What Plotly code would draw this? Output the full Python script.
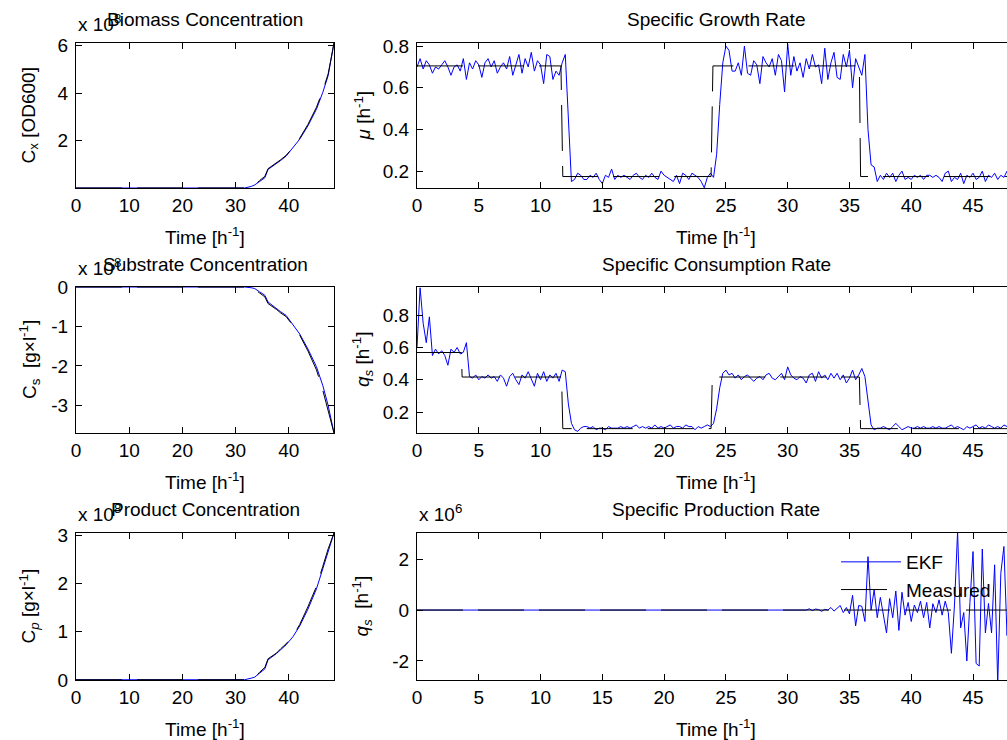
import numpy as np
import plotly.graph_objects as go

# ---------------- data ----------------
# sampling grid of the EKF estimates (h)
t = np.round(np.arange(195) * 0.25, 2)

mu_ekf = [
    0.70, 0.74, 0.69, 0.73, 0.71, 0.67, 0.70, 0.69, 0.71, 0.73,
    0.70, 0.66, 0.70, 0.71, 0.68, 0.74, 0.64, 0.72, 0.69, 0.73,
    0.71, 0.65, 0.72, 0.74, 0.70, 0.73, 0.67, 0.70, 0.72, 0.69,
    0.75, 0.66, 0.71, 0.76, 0.67, 0.74, 0.70, 0.77, 0.68, 0.73,
    0.71, 0.62, 0.76, 0.75, 0.64, 0.68, 0.66, 0.72,
    0.76, 0.45, 0.15, 0.16, 0.19, 0.18, 0.16, 0.16, 0.18, 0.17,
    0.19, 0.16, 0.14, 0.18, 0.17, 0.21, 0.16, 0.18, 0.17, 0.18,
    0.17, 0.16, 0.18, 0.19, 0.17, 0.16, 0.18, 0.17, 0.19, 0.17,
    0.16, 0.20, 0.18, 0.17, 0.16, 0.15, 0.18, 0.14, 0.19, 0.18,
    0.16, 0.19, 0.18, 0.17, 0.15, 0.12, 0.17, 0.19,
    0.17, 0.28, 0.52, 0.72, 0.80, 0.78, 0.68, 0.68, 0.72, 0.66,
    0.80, 0.67, 0.66, 0.73, 0.71, 0.62, 0.75, 0.72, 0.70, 0.74,
    0.66, 0.76, 0.73, 0.58, 0.81, 0.66, 0.75, 0.68, 0.72, 0.65,
    0.74, 0.69, 0.76, 0.70, 0.71, 0.62, 0.79, 0.64, 0.72, 0.77,
    0.65, 0.64, 0.76, 0.70, 0.78, 0.60, 0.74, 0.70,
    0.66, 0.76, 0.40, 0.23, 0.22, 0.15, 0.18, 0.16, 0.19, 0.17,
    0.19, 0.15, 0.18, 0.20, 0.16, 0.17, 0.16, 0.18, 0.17, 0.18,
    0.16, 0.18, 0.18, 0.17, 0.18, 0.17, 0.15, 0.19, 0.20, 0.15,
    0.17, 0.16, 0.19, 0.14, 0.18, 0.17, 0.19, 0.16, 0.17, 0.20,
    0.15, 0.18, 0.17, 0.19, 0.16, 0.18, 0.17, 0.20, 0.18, 0.16,
    0.17,
]
mu_meas_t = [0, 11.65, 11.8, 23.8, 23.95, 35.8, 35.9, 48.5]
mu_meas = [0.705, 0.705, 0.174, 0.174, 0.705, 0.705, 0.174, 0.174]

qs_ekf = [
    0.60, 0.97, 0.75, 0.63, 0.79, 0.55, 0.59, 0.56, 0.58, 0.55,
    0.49, 0.59, 0.57, 0.60, 0.56,
    0.57, 0.63, 0.42, 0.41, 0.43, 0.40, 0.42, 0.41, 0.43, 0.41,
    0.42, 0.39, 0.43, 0.41, 0.36, 0.42, 0.44, 0.40, 0.37, 0.43,
    0.41, 0.45, 0.40, 0.36, 0.44, 0.40, 0.45, 0.39, 0.43, 0.41,
    0.44, 0.39, 0.46,
    0.45, 0.25, 0.13, 0.09, 0.08, 0.10, 0.11, 0.11, 0.10, 0.11,
    0.09, 0.10, 0.10, 0.09, 0.11, 0.10, 0.10, 0.10, 0.11, 0.10,
    0.11, 0.10, 0.11, 0.12, 0.10, 0.11, 0.10, 0.11, 0.10, 0.12,
    0.10, 0.11, 0.10, 0.11, 0.12, 0.10, 0.11, 0.11, 0.10, 0.12,
    0.11, 0.11, 0.09, 0.11, 0.10, 0.11, 0.12, 0.11,
    0.13, 0.22, 0.35, 0.44, 0.46, 0.43, 0.44, 0.41, 0.43, 0.40,
    0.42, 0.43, 0.41, 0.39, 0.41, 0.42, 0.40, 0.43, 0.44, 0.41,
    0.40, 0.42, 0.44, 0.40, 0.48, 0.43, 0.41, 0.40, 0.42, 0.41,
    0.38, 0.43, 0.44, 0.39, 0.45, 0.41, 0.43, 0.40, 0.44, 0.41,
    0.44, 0.40, 0.43, 0.38, 0.41, 0.46, 0.40, 0.43,
    0.47, 0.42, 0.25, 0.12, 0.09, 0.10, 0.10, 0.11, 0.10, 0.09,
    0.11, 0.13, 0.11, 0.09, 0.10, 0.11, 0.10, 0.10, 0.11, 0.10,
    0.11, 0.10, 0.10, 0.11, 0.10, 0.11, 0.10, 0.10, 0.11, 0.12,
    0.10, 0.11, 0.10, 0.09, 0.11, 0.10, 0.11, 0.12, 0.10, 0.11,
    0.10, 0.12, 0.11, 0.10, 0.11, 0.10, 0.12, 0.11, 0.11, 0.10,
    0.11,
]
qs_meas_t = [0, 3.6, 3.65, 11.7, 11.8, 23.8, 23.9, 35.8, 35.9, 48.5]
qs_meas = [0.569, 0.569, 0.417, 0.417, 0.097, 0.097, 0.417, 0.417, 0.097, 0.097]

# specific production rate, x 10^6 (flat zero up to 31.25 h)
qp_ekf = [0.0] * 126 + [
    0.00, 0.05, -0.02, 0.04, 0.02, -0.05, 0.03, 0.00, 0.10, -0.04,
    0.06, 0.18, -0.10, 0.10, -0.15, 0.58, -0.62, 0.18, 0.15, -0.45,
    2.10, 0.00, 0.80, -0.30, 0.50, -0.25, -0.90, 0.45, -0.30, 0.75,
    -0.80, 0.70, -0.20, 0.30, -0.45, 0.20, -0.10, 0.35, -0.30, 0.30,
    -0.70, 0.25, -0.10, 0.40, -0.20, 0.35, -0.10, -1.70, 0.20, 3.10,
    -0.70, -0.10, -2.00, 0.30, 2.30, -2.10, -2.20, 2.40, -0.90, 0.26,
    -0.90, 1.78, -2.90, 1.45, 2.50, -1.00, 1.20, -0.80, 0.50,
]
qp_meas_t = [0, 48.5]
qp_meas = [0.0, 0.0]

# concentrations, x 10^8
conc_t = [0, 30, 31.7, 33, 33.6, 34.5, 35.5, 36.1, 37, 37.7, 38.5, 39.5,
          40.8, 42.05, 43.6, 45.2, 46.4, 47.4, 48.5]
cx_ekf = [0.01, 0.01, 0.01, 0.08, 0.14, 0.28, 0.44, 0.79, 0.92, 1.04, 1.17,
          1.35, 1.70, 2.06, 2.62, 3.32, 4.03, 4.73, 6.10]
cx_meas = [0.01, 0.01, 0.01, 0.06, 0.12, 0.32, 0.50, 0.82, 0.95, 1.06, 1.20,
           1.38, 1.72, 2.10, 2.68, 3.40, 4.10, 4.80, 6.10]
cs_ekf = [0, 0, 0, -0.02, -0.04, -0.12, -0.21, -0.38, -0.48, -0.55, -0.63,
          -0.72, -0.96, -1.19, -1.57, -2.02, -2.50, -3.00, -3.70]
cs_meas = [0, 0, 0, -0.03, -0.06, -0.15, -0.25, -0.42, -0.50, -0.57, -0.66,
           -0.75, -0.98, -1.22, -1.62, -2.10, -2.62, -3.12, -3.70]
cp_ekf = [0.005, 0.005, 0.005, 0.04, 0.06, 0.14, 0.23, 0.42, 0.49, 0.55, 0.63,
          0.73, 0.90, 1.12, 1.47, 1.89, 2.31, 2.67, 3.05]
cp_meas = [0.005, 0.005, 0.005, 0.03, 0.05, 0.16, 0.26, 0.44, 0.50, 0.56, 0.65,
           0.75, 0.92, 1.15, 1.52, 1.94, 2.36, 2.72, 3.05]

titles = ["Biomass Concentration", "Specific Growth Rate",
          "Substrate Concentration", "Specific Consumption Rate",
          "Product Concentration", "Specific Production Rate"]
ylabels = ["C<sub>x</sub> [OD600]", "<i>μ</i> [h<sup>-1</sup>]",
           "C<sub>s</sub>  [g×l<sup>-1</sup>]", "<i>q<sub>s</sub></i> [h<sup>-1</sup>]",
           "C<sub><i>p</i></sub> [g×l<sup>-1</sup>]", "<i>q<sub>s</sub></i>  [h<sup>-1</sup>]"]
xlabel = "Time [h<sup>-1</sup>]"

yticks = [[2, 4, 6], [0.2, 0.4, 0.6, 0.8], [-3, -2, -1, 0], [0.2, 0.4, 0.6, 0.8],
          [0, 1, 2, 3], [-2, 0, 2]]
yticklabels = [["2", "4", "6"], ["0.2", "0.4", "0.6", "0.8"],
               ["-3", "-2", "-1", "0"], ["0.2", "0.4", "0.6", "0.8"],
               ["0", "1", "2", "3"], ["-2", "0", "2"]]
xticks_left = [0, 10, 20, 30, 40]
xticks_right = [0, 5, 10, 15, 20, 25, 30, 35, 40, 45]

# ---------------- figure ----------------
W, H = 1007, 740
FONT = "Liberation Sans, Arial, Helvetica, sans-serif"
FS = 19
BLUE = "#0000FF"
DASH = "46px,15px"

def px(x):
    return x / W

def py(y):
    return 1 - y / H

fig = go.Figure()

panels = [
    (conc_t, cx_ekf, conc_t, cx_meas),
    (t, mu_ekf, mu_meas_t, mu_meas),
    (conc_t, cs_ekf, conc_t, cs_meas),
    (t, qs_ekf, qs_meas_t, qs_meas),
    (conc_t, cp_ekf, conc_t, cp_meas),
    (t, qp_ekf, qp_meas_t, qp_meas),
]

for i, (xe, ye, xm, ym) in enumerate(panels):
    k = "" if i == 0 else str(i + 1)
    last = i == 5
    fig.add_trace(go.Scatter(x=xe, y=ye, mode="lines", name="EKF",
                             line=dict(color=BLUE, width=1),
                             xaxis="x" + k, yaxis="y" + k, showlegend=last))
    fig.add_trace(go.Scatter(x=xm, y=ym, mode="lines", name="Measured",
                             line=dict(color="black", width=1, dash=DASH),
                             xaxis="x" + k, yaxis="y" + k, showlegend=last))

rows = [(43, 188), (287, 433), (533, 680)]
left_dom = [px(76), px(334)]
right_dom = [px(417), 1.0]

yranges = [[0.01, 6.1], [0.119, 0.815], [-3.7, 0.0], [0.07, 0.975],
           [0.0, 3.05], [-2.75, 3.03]]

layout = dict(
    template="none",
    width=W, height=H, margin=dict(l=0, r=0, t=0, b=0, pad=0, autoexpand=False),
    paper_bgcolor="white", plot_bgcolor="white",
    font=dict(family=FONT, size=FS, color="black"),
    showlegend=True,
    legend=dict(x=px(836), y=py(543), xanchor="left", yanchor="top",
                bgcolor="rgba(0,0,0,0)", borderwidth=0, itemwidth=60,
                font=dict(family=FONT, size=FS, color="black"),
                tracegroupgap=0),
)

annotations = []
for i in range(6):
    r, c = divmod(i, 2)
    k = "" if i == 0 else str(i + 1)
    top, bot = rows[r]
    ydom = [py(bot), py(top)]
    xdom = left_dom if c == 0 else right_dom
    xaxis = dict(domain=xdom, anchor="y" + k, showgrid=False, zeroline=False,
                 automargin=False,
                 showline=True, linecolor="black", linewidth=1, mirror="ticks",
                 ticks="inside", ticklen=6, tickcolor="black", tickwidth=1,
                 tickfont=dict(family=FONT, size=FS),
                 ticklabelstandoff=0)
    if c == 0:
        xaxis.update(range=[0, 48.5], tickvals=xticks_left,
                     ticktext=[str(v) for v in xticks_left])
    else:
        xaxis.update(range=[0, 47.75], tickvals=xticks_right,
                     ticktext=[str(v) for v in xticks_right])
    yaxis = dict(domain=ydom, anchor="x" + k, showgrid=False, zeroline=False,
                 automargin=False,
                 showline=True, linecolor="black", linewidth=1,
                 mirror="ticks" if c == 0 else False,
                 ticks="inside", ticklen=6, tickcolor="black", tickwidth=1,
                 range=yranges[i], tickvals=yticks[i], ticktext=yticklabels[i],
                 tickfont=dict(family=FONT, size=FS), ticklabelstandoff=3)
    layout["xaxis" + k] = xaxis
    layout["yaxis" + k] = yaxis

    cx = (76 + 334) / 2 if c == 0 else 716
    # title
    annotations.append(dict(text=titles[i], x=px(cx), y=py(top - 23),
                            xref="paper", yref="paper", showarrow=False,
                            xanchor="center", yanchor="middle",
                            font=dict(family=FONT, size=FS)))
    # x label
    annotations.append(dict(text=xlabel, x=px(cx), y=py(bot + 48),
                            xref="paper", yref="paper", showarrow=False,
                            xanchor="center", yanchor="middle",
                            font=dict(family=FONT, size=FS)))
    # y label
    yx = 29 if c == 0 else 362
    annotations.append(dict(text=ylabels[i], x=px(yx), y=py((top + bot) / 2),
                            xref="paper", yref="paper", showarrow=False,
                            textangle=-90, xanchor="center", yanchor="middle",
                            font=dict(family=FONT, size=FS)))

# exponent labels
for (xp, yp, e) in [(76, 43, "8"), (76, 287, "8"), (76, 533, "8"), (417, 533, "6")]:
    annotations.append(dict(text="x 10<sup>%s</sup>" % e, x=px(xp), y=py(yp - 6),
                            xref="paper", yref="paper", showarrow=False,
                            xanchor="left", yanchor="bottom",
                            font=dict(family=FONT, size=FS)))

layout["annotations"] = annotations
fig.update_layout(**layout)
fig.write_html("out.html",
               config={"displayModeBar": False},
               post_script="document.body.style.margin='0px';"
                           "document.body.style.overflow='hidden';")
